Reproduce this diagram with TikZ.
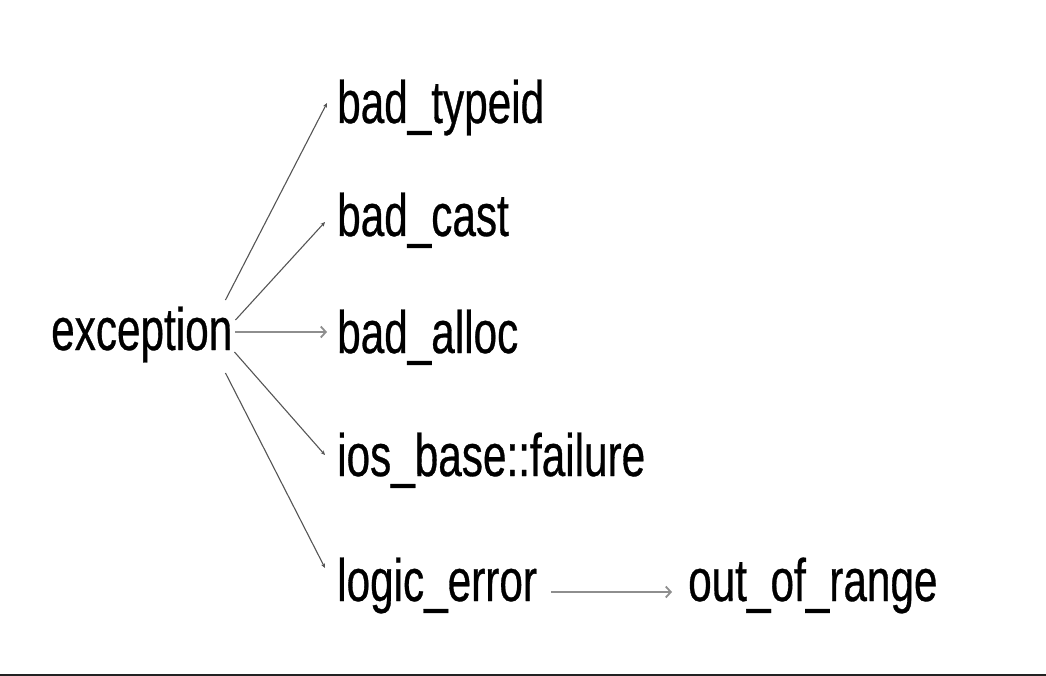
\documentclass[tikz,border=0pt]{standalone}
\usepackage{fontspec}
\setmainfont[FakeStretch=0.705,FakeBold=0.5]{Liberation Sans}
\usetikzlibrary{arrows.meta,calc}
\definecolor{thinline}{HTML}{555555}
\definecolor{thickline}{HTML}{8E8E8E}
\definecolor{barcol}{HTML}{222222}
\begin{document}
\begin{tikzpicture}[x=1pt,y=-1pt,
  lbl/.style={inner sep=0pt,anchor=base west,font=\fontsize{60}{70}\selectfont},
  thinarrow/.style={draw=thinline,line width=1.1pt,-{Stealth[length=4.5pt,width=4pt]}},
  thickarrow/.style={draw=thickline,line width=2.6pt,-{Straight Barb[length=5pt,width=11pt,line width=1.8pt]}}]
\useasboundingbox (0,0) rectangle (1046,676);
\fill[barcol] (0,673.5) rectangle (1046,676);
\node[lbl] (exc) at (51,350) {exception};
\node[lbl] (bt) at (337,123) {bad\_typeid};
\node[lbl] (bc) at (337,236) {bad\_cast};
\node[lbl] (ba) at (337,353) {bad\_alloc};
\node[lbl] (ios) at (337,476) {ios\_base::failure};
\node[lbl] (le) at (337,601) {logic\_error};
\node[lbl] (oor) at (688,601) {out\_of\_range};
\draw[thinarrow] ($(exc.base east)+(-7,-50)$) -- ($(bt.base west)+(-10,-20)$);
\draw[thinarrow] ($(exc.base east)+(3,-30)$) -- ($(bc.base west)+(-12,-14)$);
\draw[thickarrow] ($(exc.base east)+(3,-18)$) -- ($(ba.base west)+(-10,-21)$);
\draw[thinarrow] ($(exc.base east)+(2,2)$) -- ($(ios.base west)+(-12,-21)$);
\draw[thinarrow] ($(exc.base east)+(-7,23)$) -- ($(le.base west)+(-12,-33)$);
\draw[thickarrow] ($(le.base east)+(14,-9)$) -- ($(oor.base west)+(-16,-9)$);
\end{tikzpicture}
\end{document}
